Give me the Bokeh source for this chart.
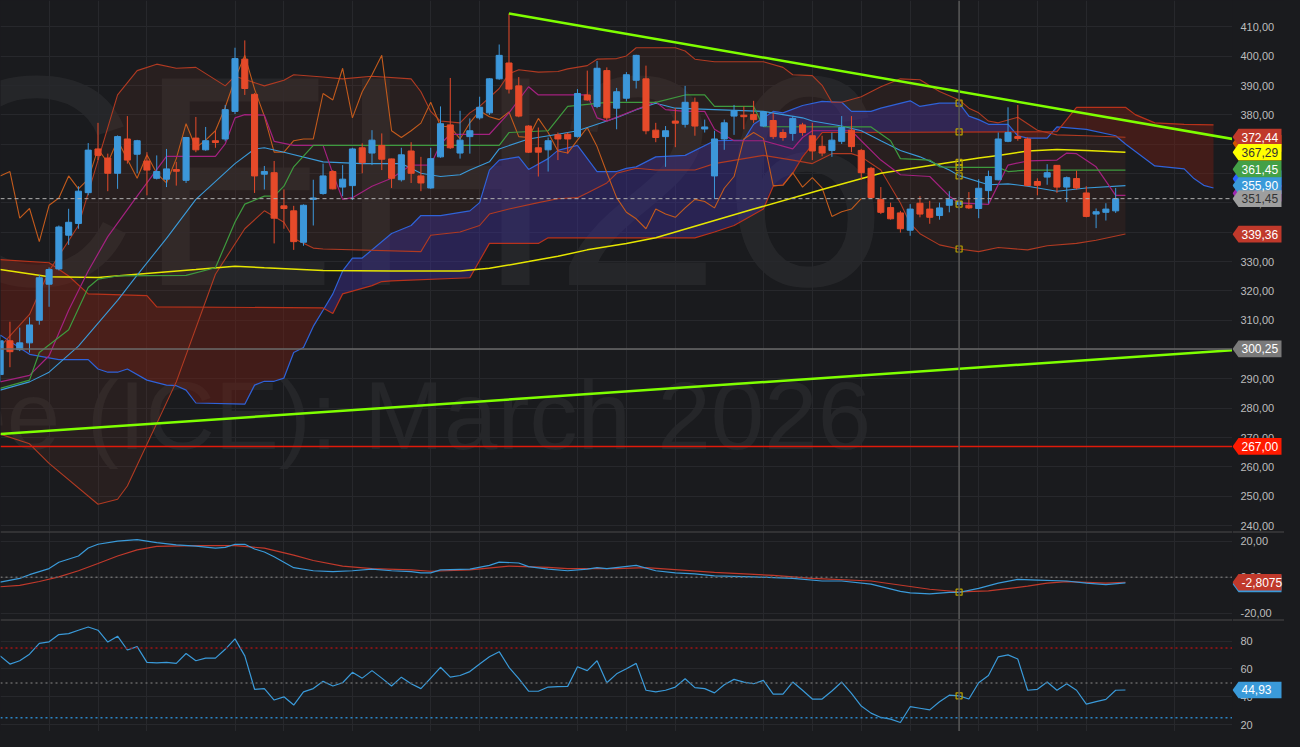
import numpy as np
from bokeh.plotting import figure
from bokeh.layouts import column, row
from bokeh.models import Range1d, FixedTicker, Label, Span, ColumnDataSource
from bokeh.core.properties import value
from bokeh.embed import file_html
from bokeh.resources import INLINE

# ---------------- data ----------------
opens = [291.5, 303, 300, 302.3, 310, 322.3, 327.5, 339, 343, 353.5,
         368.4, 365.3, 360.1, 371.8, 366.6, 364.3, 358.4, 358.1, 361.4, 357.7,
         372.1, 368.1, 371.2, 371.8, 381.2, 399, 387, 359.8, 360.3, 349,
         347.3, 336.6, 351.2, 353.2, 360.7, 355.4, 355.9, 368.8, 367, 369.6,
         365, 357.9, 367.7, 359.2, 355.1, 365.7, 376.6, 367, 372.6, 379,
         380.7, 392.3, 397.7, 389.9, 376.2, 368.8, 368.1, 373.2, 373.4, 372.6,
         386.8, 382.9, 395.1, 382.3, 385.7, 391.8, 392.3, 374.8, 372.6, 377.9,
         376.8, 384.3, 375.2, 359.2, 371.8, 379.6, 379.9, 380.1, 376.2, 378.1,
         374, 373.7, 376.6, 372.9, 369.3, 367.9, 371, 374.8, 367.9, 361.8,
         351.2, 348.4, 346.6, 340.7, 349.9, 347.9, 345.7, 349.2, 349.5, 349.2,
         348.1, 354.2, 357.9, 371, 372.6, 371.8, 357.3, 358.8, 362.8, 355.4,
         358.3, 353.4, 346.2, 346.8, 347.3]
highs = [305, 309.5, 307.5, 311, 325.5, 328, 342.3, 348, 355.7, 370.4,
         377.3, 366.8, 373, 379.6, 371.5, 367.3, 366.2, 368.4, 364, 372.5,
         379.3, 375.9, 374.6, 383.4, 402.9, 405.4, 387.5, 362.6, 364.3, 354.6,
         349, 349.5, 357.9, 363.4, 361.2, 362.9, 368.8, 370.3, 374.8, 373.7,
         365.1, 368.8, 370.7, 365.7, 368.8, 382.9, 392.6, 381.4, 378.8, 386.2,
         392.5, 404, 414.6, 392.9, 376.5, 375.7, 372.3, 374, 374, 388.8,
         395.1, 398.4, 396.2, 389.2, 394.6, 400.5, 396.8, 377.3, 376.2, 382.3,
         389.9, 385.9, 378.4, 374.6, 378.4, 383.4, 382.9, 384.8, 381.2, 380.7,
         375.1, 379.6, 377.3, 377.3, 372.9, 374, 379.6, 379.6, 368.4, 362.3,
         355.4, 350.1, 347.3, 349.6, 352.3, 350.7, 350.1, 354, 352, 353.7,
         358.1, 361, 374, 382.6, 383.4, 372.3, 358.4, 363.2, 362.9, 359,
         361, 355.7, 348.1, 349.9, 355.1]
lows = [289, 294, 299.5, 299, 308.5, 314.6, 327, 335.7, 341.2, 352.6,
        364.6, 354, 354.8, 363.4, 360.1, 352.6, 358, 355.4, 355.9, 356.8,
        367.3, 367.8, 368.8, 371, 380.3, 386.8, 353.4, 354.6, 336.2, 341.2,
        334, 335.4, 342.3, 352.8, 354.6, 352.3, 351, 360.1, 362.9, 361.2,
        355.1, 357.3, 356.8, 354, 354.8, 365.4, 368.4, 365.1, 366.8, 378.4,
        380, 392, 387.3, 379.2, 367, 359, 360.7, 364.6, 366.8, 372.3,
        384.8, 382.3, 378.1, 375.1, 384.6, 389, 373.4, 370.7, 362.3, 369,
        375.7, 372.9, 374, 351.4, 368.1, 373.2, 375.1, 377.3, 376, 371.8,
        371.2, 371.2, 372.9, 364.6, 365.9, 365.7, 370.1, 367.3, 357.9, 351.4,
        346.2, 344.3, 339.9, 338.8, 345.1, 342.9, 344.3, 346.8, 348, 347.9,
        344.8, 349.8, 357.7, 370.7, 371.2, 355.7, 352.6, 356.2, 353.4, 350.3,
        354.6, 345.1, 341.4, 344, 346.6]
closes = [303, 299.3, 302.3, 308.4, 324.5, 327.3, 341.8, 343.4, 354, 368,
          366.2, 360.1, 372.6, 364.6, 371.2, 361.2, 360.7, 361.6, 360.8, 372.3,
          368.1, 371.2, 370.6, 381.8, 399.2, 389, 359.2, 360.7, 344.8, 348.1,
          336.8, 349.2, 351.7, 359.2, 354.8, 358.1, 368.4, 363.7, 371.4, 364.9,
          358.4, 366.4, 360.1, 356.8, 365.1, 377, 368.8, 371.4, 374.6, 382.6,
          392.3, 400.3, 388.8, 379.6, 367.3, 367.3, 371.2, 371.8, 371.8, 387.3,
          385.1, 395.9, 379, 387.9, 393.7, 400.3, 374.6, 372.3, 374.6, 377.2,
          384.3, 376.2, 375.9, 371.8, 377.3, 381.4, 379.4, 378.4, 381, 372.6,
          372.3, 378.8, 374, 367.7, 367, 371.4, 375.7, 369.2, 360.3, 351.8,
          346.8, 344.6, 341.2, 347.9, 346.2, 345.1, 348.3, 351.2, 350.5, 348.3,
          355, 359, 371.8, 374, 372, 355.9, 356, 360.3, 355.4, 358.6,
          355.1, 345.4, 347, 347.9, 351.45]

# long moving average (yellow)
ma_x = [0, 5, 10, 14, 20, 24, 27, 33, 40, 47, 50, 54, 57, 60, 64, 67, 77, 84, 90, 97, 100, 102, 105, 108, 111, 115]
ma_y = [327.3, 324.8, 324.6, 325.7, 327.3, 328.4, 327.9, 327.0, 326.8, 326.8, 327.7, 330.0, 331.8, 334.0, 336.2,
        338.1, 347.9, 354.6, 360.1, 363.8, 365.3, 366.2, 367.7, 368.2, 367.9, 367.3]
# Bollinger middle (light blue)
mid_x = [0, 3, 5, 8, 12, 14, 17, 20, 24, 26, 27, 29, 33, 37, 41, 43, 45, 47, 48, 50, 51, 54, 57, 59, 61, 63, 65, 67,
         69, 73, 78, 80, 82, 83, 86, 88, 90, 92, 94, 97, 98, 101, 103, 105, 108, 111, 115]
mid_y = [286.2, 289.0, 292.3, 301.2, 316.8, 325.4, 337.9, 351.2, 363.4, 368.4, 368.8, 367.3, 364.0, 363.4, 363.4,
         360.1, 359.0, 359.6, 361.2, 364.0, 368.4, 371.8, 373.4, 374.6, 376.8, 379.0, 381.8, 384.0, 382.3, 381.8,
         381.2, 380.1, 379.0, 377.9, 376.2, 374.6, 371.2, 367.9, 365.7, 361.2, 359.3, 356.2, 356.5, 355.7, 354.0,
         355.1, 355.9]
# Tenkan (magenta)
tk_x = [0, 3, 5, 7, 9, 11, 14, 15, 17, 22, 23, 24, 25, 27, 28, 30, 33, 34, 35, 36, 38, 40, 42, 44, 45, 46, 50, 52,
        54, 55, 60, 61, 62, 67, 68, 70, 72, 73, 75, 78, 81, 82, 83, 87, 88, 90, 92, 95, 97, 98, 101, 103, 105, 108,
        109, 110, 112, 114, 115]
tk_y = [289.0, 291.2, 297.9, 313.4, 326.8, 338.5, 352.3, 356.8, 365.9, 365.9, 370.1, 379.0, 380.1, 379.9, 371.0,
        369.6, 369.6, 360.0, 351.2, 351.8, 355.7, 358.4, 362.9, 362.9, 370.1, 373.4, 373.4, 380.7, 389.6, 386.8,
        386.8, 379.0, 377.9, 384.5, 381.8, 381.2, 381.2, 375.1, 371.2, 371.2, 368.4, 372.3, 374.6, 374.6, 371.2,
        364.6, 359.6, 359.0, 352.3, 350.0, 349.5, 362.9, 364.3, 364.6, 367.0, 366.8, 362.3, 352.6, 352.6]
# Kijun (green)
kj_x = [0, 3, 4, 7, 9, 10, 12, 19, 22, 24, 25, 27, 28, 29, 30, 32, 51, 52, 56, 58, 62, 67, 70, 72, 73, 77, 78, 89,
        91, 92, 95, 96, 98, 102, 103, 105, 115]
kj_y = [286.8, 289.6, 299.0, 306.8, 321.2, 324.0, 325.1, 325.3, 327.9, 343.5, 349.6, 352.3, 352.3, 355.7, 362.3,
        369.6, 369.6, 374.0, 374.6, 382.9, 384.3, 384.3, 386.8, 386.8, 382.9, 382.9, 376.0, 375.9, 371.2, 365.1,
        364.6, 362.3, 362.1, 362.1, 360.7, 361.2, 361.2]
# Bollinger upper / lower
up_x = [0, 3, 5, 8, 9, 12, 14, 16, 18, 20, 23, 24, 27, 29, 30, 33, 35, 38, 42, 43, 44, 45, 47, 48, 49, 51, 52, 53,
        55, 57, 58, 60, 61, 63, 64, 65, 69, 70, 71, 73, 78, 80, 81, 83, 84, 85, 86, 88, 90, 92, 94, 96, 98, 99, 100,
        101, 102, 104, 106, 108, 111, 115]
up_y = [301.0, 312.0, 326.8, 342.3, 353.4, 386.8, 395.1, 397.3, 395.9, 396.2, 389.9, 393.2, 389.9, 391.8, 393.7,
        392.9, 392.3, 393.2, 392.3, 387.9, 381.2, 377.9, 377.3, 380.7, 382.9, 389.0, 394.0, 395.4, 394.6, 394.8,
        395.7, 396.8, 399.0, 399.2, 400.1, 402.9, 402.9, 401.8, 399.0, 398.1, 398.1, 396.2, 393.7, 393.4, 390.1,
        384.3, 384.3, 386.2, 389.6, 392.3, 392.0, 388.0, 385.1, 382.3, 380.7, 377.9, 377.3, 379.2, 374.8, 373.2,
        372.9, 372.4]
lo_x = [0, 3, 5, 10, 12, 13, 18, 22, 25, 27, 29, 30, 32, 33, 43, 44, 47, 49, 50, 52, 55, 57, 59, 60, 62, 63, 65, 67,
        71, 73, 78, 81, 83, 85, 87, 88, 90, 92, 93, 94, 96, 98, 100, 102, 105, 107, 110, 112, 115]
lo_y = [271.2, 267.9, 261.2, 247.3, 249.0, 253.5, 289.0, 325.7, 341.2, 347.3, 343.4, 337.9, 334.6, 334.3, 333.4,
        339.0, 340.1, 342.3, 346.2, 347.9, 350.1, 351.4, 351.8, 353.4, 356.8, 360.1, 361.8, 361.2, 361.2, 363.4,
        366.2, 364.6, 363.4, 366.8, 366.8, 365.7, 361.2, 350.0, 343.0, 339.5, 335.7, 334.3, 333.4, 334.8, 334.0,
        335.4, 336.2, 337.3, 339.4]
# Senkou span A (blue) / B (red)
sa_x = [0, 3, 6, 9, 10, 11, 12, 13, 15, 17, 18, 19, 20, 25, 26, 27, 28, 29, 30, 31, 32, 33, 34, 35, 36, 37, 40, 42,
        43, 45, 48, 49, 50, 51, 53, 54, 56, 57, 59, 61, 63, 64, 65, 67, 70, 73, 76, 77, 79, 80, 82, 84, 86, 87, 89,
        90, 93, 94, 96, 98, 99, 100, 101, 103, 104, 105, 107, 108, 111, 114, 115, 118, 121, 122, 123, 124]
sa_y = [305.0, 298.4, 296.6, 296.6, 293.4, 292.3, 292.3, 293.4, 289.6, 287.9, 287.7, 286.2, 281.8, 281.4, 287.9,
        289.2, 289.2, 290.3, 299.0, 300.7, 307.9, 313.4, 319.0, 326.8, 331.2, 331.2, 339.6, 342.3, 345.7, 345.7,
        347.3, 350.1, 361.2, 364.6, 365.7, 361.4, 365.1, 367.9, 369.6, 360.7, 360.7, 361.8, 362.3, 365.7, 366.2,
        371.2, 371.4, 376.8, 381.2, 380.7, 383.2, 384.6, 384.3, 381.2, 381.2, 382.3, 384.8, 382.9, 384.0, 384.0,
        379.6, 378.4, 376.8, 376.8, 372.9, 372.1, 372.1, 375.9, 375.1, 372.9, 370.1, 362.6, 361.6, 358.3, 356.0,
        355.1]
sb_x = [0, 5, 7, 9, 15, 16, 33, 34, 35, 38, 39, 40, 48, 50, 55, 56, 71, 73, 75, 78, 79, 80, 81, 82, 84, 108, 110,
        115, 116, 118, 121, 124]
sb_y = [330.7, 329.6, 325.1, 319.0, 318.4, 314.6, 314.2, 312.3, 319.0, 321.8, 323.2, 323.4, 324.5, 336.2, 336.2,
        338.1, 338.1, 340.1, 342.3, 347.9, 355.7, 356.2, 360.1, 365.7, 374.0, 374.3, 382.6, 382.6, 380.1, 377.3,
        376.8, 376.6]
# trend lines (bar index, price)
trend_down_x = [52, 125.94]
trend_down_y = [414.6, 371.8]
trend_up_x = [0.035, 125.94]
trend_up_y = [271.2, 299.8]
# horizontal levels
level_red = 267.00
level_gray = 300.25
last_price = 351.45
cross_idx = 98
cross_main_y = [384.0, 374.2, 363.8, 362.0, 359.2, 349.6, 334.3]
# MACD
macd_x = [0, 2, 3, 5, 6, 8, 9, 10, 12, 14, 16, 18, 20, 22, 23, 24, 25, 26, 27, 28, 30, 32, 34, 36, 38, 40, 42, 43,
          44, 45, 48, 50, 51, 53, 54, 56, 58, 60, 61, 62, 65, 67, 69, 71, 73, 77, 81, 84, 86, 89, 92, 93, 95, 97,
          98, 100, 102, 104, 106, 109, 111, 113, 115]
macd_y = [-2.75, -0.67, 1.4, 4.8, 8.3, 11.8, 16.2, 18.3, 20.1, 20.9, 19.2, 18.0, 17.3, 16.2, 16.6, 18.3, 18.3,
          15.7, 14.0, 11.4, 5.3, 3.6, 3.1, 3.6, 4.5, 3.6, 3.1, 2.4, 2.4, 4.1, 4.5, 6.6, 8.4, 7.9, 5.9, 4.5, 3.6,
          4.5, 5.3, 4.8, 6.6, 3.6, 2.4, 1.9, 0.7, 0.2, -0.7, -2.1, -2.1, -3.8, -7.9, -8.7, -9.3, -8.4, -8.4, -6.2,
          -3.3, -1.2, -1.6, -2.1, -3.3, -4.1, -3.2]
sig_x = [0, 2, 4, 6, 8, 10, 12, 14, 16, 20, 24, 27, 30, 32, 35, 38, 42, 44, 48, 52, 56, 58, 63, 66, 73, 79, 83, 89,
         95, 98, 101, 105, 107, 109, 113, 115]
sig_y = [-5.3, -4.5, -2.4, 0.2, 3.6, 7.6, 11.8, 15.2, 17.1, 17.5, 17.5, 16.2, 12.3, 9.3, 6.2, 4.8, 4.1, 3.3, 4.1,
         6.2, 5.5, 4.8, 4.8, 5.3, 2.7, 1.0, -0.7, -2.1, -6.7, -8.1, -7.6, -5.0, -3.3, -2.4, -3.3, -2.8]
macd_last = -2.8075
# RSI (one value per bar, 0..115)
rsi = [69.4, 63.5, 65.9, 70.6, 78.4, 79.5, 84.7, 85.4, 87.8, 90.1,
       87.8, 79.3, 83.5, 73.6, 76.0, 64.7, 64.3, 64.7, 64.0, 71.1,
       65.9, 67.8, 67.8, 74.1, 81.6, 69.4, 45.4, 45.9, 37.7, 40.0,
       34.1, 43.5, 45.9, 51.1, 47.8, 50.1, 57.6, 53.4, 58.8, 53.4,
       47.8, 54.1, 49.4, 45.9, 53.4, 61.2, 54.1, 55.3, 58.1, 63.5,
       68.7, 72.4, 61.2, 53.0, 44.0, 44.0, 47.0, 47.3, 47.5, 61.6,
       58.8, 65.9, 50.1, 56.5, 60.2, 64.0, 44.7, 43.5, 44.7, 47.0,
       53.0, 46.6, 45.9, 42.8, 48.7, 52.5, 50.6, 49.4, 51.8, 41.9,
       41.9, 50.6, 44.7, 38.4, 38.4, 44.2, 50.6, 42.4, 33.4, 28.3,
       25.2, 24.0, 21.6, 32.9, 31.8, 30.6, 36.5, 41.2, 40.7, 38.4,
       50.1, 55.3, 68.7, 70.1, 67.1, 44.7, 45.4, 50.6, 44.7, 49.4,
       44.7, 34.8, 36.5, 38.2, 44.7, 44.9]
rsi_last = 44.93
rsi_levels = [75, 50, 25]
# tags on the price scale
tag_vals = [372.44, 367.29, 361.45, 355.90, 351.45, 339.36, 300.25, 267.00]
tag_bg = ["#c0392b", "#ffff00", "#43a047", "#3a9ad9", "#9e9e9e", "#c0392b", "#7a7a7a", "#ff1a00"]
tag_fg = ["#ffffff", "#333333", "#ffffff", "#ffffff", "#333333", "#ffffff", "#ffffff", "#ffffff"]
# tags mostly hidden behind the others (only their edges show)
hidden_tag_vals = [370.3, 358.2, 353.3]
hidden_tag_bg = ["#d35400", "#2962ff", "#9c27b0"]
grid_x = [5, 10, 15, 24, 29, 36, 44, 49, 59, 64, 69, 78, 83, 88, 93, 100, 106, 111, 120]
price_ticks = list(range(240, 411, 10))
macd_ticks = [-20, 0, 20]
rsi_ticks = [20, 40, 60, 80]
title_sym = "KCEH26"
title_name = "Coffee (ICE): March 2026"

# ---------------- styling ----------------
BG = "#1a1b1e"
GRID = "#27282c"
UPC = "#3c97da"
DNC = "#e64a2a"
FONT = "Liberation Sans"
FRAME_W = 1232
SIDE_W = 52
X0, X1 = 0.035, 125.94

xr = Range1d(X0, X1)


def fmt_comma(v, nd):
    return f"{v:.{nd}f}".replace(".", ",")


def make_fig(h, yr):
    p = figure(frame_width=FRAME_W, frame_height=h, x_range=xr, y_range=yr,
               output_backend="svg", toolbar_location=None, y_axis_location=None,
               x_axis_location=None, min_border_left=0, min_border_right=0,
               min_border_top=0, min_border_bottom=0, background_fill_color=BG,
               border_fill_color=BG, outline_line_color=None)
    p.xgrid.ticker = FixedTicker(ticks=grid_x)
    p.xgrid.grid_line_color = GRID
    p.ygrid.grid_line_color = GRID
    return p


def make_side(h, yr, ticks, labels, tags, hidden=(), top_sep=False):
    """price scale column: tick labels and value tags, drawn through the shared y scale"""
    s = figure(frame_width=SIDE_W, frame_height=h, x_range=Range1d(0, SIDE_W), y_range=yr,
               output_backend="svg", toolbar_location=None, y_axis_location=None,
               x_axis_location=None, min_border_left=0, min_border_right=0,
               min_border_top=0, min_border_bottom=0, background_fill_color=BG,
               border_fill_color=BG, outline_line_color=None)
    s.xgrid.visible = False
    s.ygrid.visible = False
    s.text(x=[8] * len(ticks), y=ticks, text=labels, text_font=value(FONT),
           text_font_size=value("11px"), text_color="#bdbdbd", text_baseline="middle",
           text_align="left")
    units_per_px = (yr.end - yr.start) / h
    hh = 8.3 * units_per_px

    def shapes(vals):
        return ([[0, 6, 49, 49, 6] for _ in vals],
                [[v, v + hh, v + hh, v - hh, v - hh] for v in vals])

    if hidden:
        hx, hy = shapes([t[0] for t in hidden])
        s.patches(xs=hx, ys=hy, fill_color=[t[1] for t in hidden], line_color=None)
    xs, ys = shapes([t[0] for t in tags])
    s.patches(xs=xs, ys=ys, fill_color=[t[2] for t in tags], line_color=None)
    s.text(x=[9] * len(tags), y=[t[0] for t in tags], text=[t[1] for t in tags],
           text_color=[t[3] for t in tags], text_font=value(FONT), text_font_size=value("12px"),
           text_baseline="middle", text_align="left")
    if top_sep:
        s.add_layout(Span(location=yr.end, dimension="width", line_color="#4a4a4a", line_width=2))
    return s


def interp_pair(xa, ya, xb, yb):
    xs = np.union1d(np.asarray(xa, float), np.asarray(xb, float))
    lo = max(min(xa), min(xb)); hi = min(max(xa), max(xb))
    xs = xs[(xs >= lo) & (xs <= hi)]
    a = np.interp(xs, xa, ya); b = np.interp(xs, xb, yb)
    d = a - b
    ext = []
    for i in range(len(xs) - 1):
        if d[i] * d[i + 1] < 0:
            ext.append(xs[i] + (xs[i + 1] - xs[i]) * d[i] / (d[i] - d[i + 1]))
    if ext:
        xs = np.sort(np.concatenate([xs, ext]))
        a = np.interp(xs, xa, ya); b = np.interp(xs, xb, yb)
    return xs, a, b


# ---------------- main panel ----------------
H1, H2, H3 = 531, 88, 112
yr1 = Range1d(238, 419)
p1 = make_fig(H1, yr1)
p1.ygrid.ticker = FixedTicker(ticks=price_ticks)

p1.add_layout(Label(x=90.7, y=357.5, text=title_sym, text_align="right", text_baseline="middle",
                    text_font=FONT, text_font_size="300px", text_color="#ffffff", text_alpha=0.05,
                    level="image"))
p1.add_layout(Label(x=89.0, y=277.5, text=title_name, text_align="right", text_baseline="middle",
                    text_font=FONT, text_font_size="96px", text_color="#ffffff", text_alpha=0.05,
                    level="image"))

# Bollinger fill
bx, bu, bl = interp_pair(up_x, up_y, lo_x, lo_y)
p1.varea(x=bx, y1=bl, y2=bu, fill_color="#8a3a2a", fill_alpha=0.13)
# cloud fill
cx, ca, cb = interp_pair(sa_x, sa_y, sb_x, sb_y)
p1.varea(x=cx, y1=cb, y2=np.maximum(ca, cb), fill_color="#3d2f9a", fill_alpha=0.42)
p1.varea(x=cx, y1=ca, y2=np.maximum(ca, cb), fill_color="#7a1e12", fill_alpha=0.42)

p1.add_layout(Span(location=level_red, dimension="width", line_color="#e01a0a", line_width=1.5))
p1.add_layout(Span(location=level_gray, dimension="width", line_color="#6a6a6a", line_width=1.5))

p1.line(sa_x, sa_y, line_color="#2f62d8", line_width=1.2)
p1.line(sb_x, sb_y, line_color="#b8321a", line_width=1.2)
p1.line(up_x, up_y, line_color="#b03a22", line_width=1.1)
p1.line(lo_x, lo_y, line_color="#b03a22", line_width=1.1)
chik_x = list(range(0, len(closes) - 26))
p1.line(chik_x, closes[26:], line_color="#c25a1c", line_width=1.1)
p1.line(ma_x, ma_y, line_color="#e6e600", line_width=1.5)
p1.line(mid_x, mid_y, line_color="#3a9ad9", line_width=1.1)
p1.line(tk_x, tk_y, line_color="#a3217f", line_width=1.2)
p1.line(kj_x, kj_y, line_color="#3e9a3e", line_width=1.2)

idx = list(range(len(closes)))
up = [i for i in idx if closes[i] >= opens[i]]
dn = [i for i in idx if closes[i] < opens[i]]
for sel, col in ((up, UPC), (dn, DNC)):
    src = ColumnDataSource(dict(
        x=sel, h=[highs[i] for i in sel], l=[lows[i] for i in sel],
        t=[max(opens[i], closes[i]) for i in sel], b=[min(opens[i], closes[i]) for i in sel]))
    p1.segment(x0="x", y0="l", x1="x", y1="h", source=src, line_color=col, line_width=1)
    p1.vbar(x="x", top="t", bottom="b", width=0.62, source=src, fill_color=col, line_color=col)

p1.add_layout(Span(location=last_price, dimension="width", line_color="#b0b0b0", line_width=1,
                   line_dash="4 3"))
p1.line(trend_down_x, trend_down_y, line_color="#7fff00", line_width=2.5)
p1.line(trend_up_x, trend_up_y, line_color="#7fff00", line_width=2.5)

p1.add_layout(Span(location=cross_idx, dimension="height", line_color="#5a5a5a", line_width=1.5))
p1.scatter([cross_idx] * len(cross_main_y), cross_main_y, marker="square", size=6,
           fill_color=None, line_color="#b9a200", line_width=1.2)

s1 = make_side(H1, yr1, price_ticks, [fmt_comma(t, 2) for t in price_ticks],
               [(v, fmt_comma(v, 2), bg, fg) for v, bg, fg in zip(tag_vals, tag_bg, tag_fg)],
               hidden=list(zip(hidden_tag_vals, hidden_tag_bg)))

# ---------------- MACD panel ----------------
yr2 = Range1d(-23.5, 25.4)
p2 = make_fig(H2, yr2)
p2.ygrid.ticker = FixedTicker(ticks=macd_ticks)
p2.add_layout(Span(location=0, dimension="width", line_color="#6a6a6a", line_width=1.5, line_dash="2 3"))
p2.line(sig_x, sig_y, line_color="#c0392b", line_width=1.2)
p2.line(macd_x, macd_y, line_color="#3a9ad9", line_width=1.2)
p2.add_layout(Span(location=cross_idx, dimension="height", line_color="#5a5a5a", line_width=1.5))
p2.scatter([cross_idx], [-8.3], marker="square", size=6, fill_color=None, line_color="#b9a200", line_width=1.2)
p2.add_layout(Span(location=yr2.end, dimension="width", line_color="#4a4a4a", line_width=2))
s2 = make_side(H2, yr2, macd_ticks, [fmt_comma(t, 2) for t in macd_ticks],
               [(macd_last, fmt_comma(macd_last, 4), "#c0392b", "#ffffff")],
               hidden=[(macd_last - 0.9, "#3a9ad9")], top_sep=True)

# ---------------- RSI panel ----------------
yr3 = Range1d(15.1, 95.5)
p3 = make_fig(H3, yr3)
p3.ygrid.ticker = FixedTicker(ticks=rsi_ticks)
for lv, col in zip(rsi_levels, ["#a01414", "#666666", "#2a86c8"]):
    p3.add_layout(Span(location=lv, dimension="width", line_color=col, line_width=1.5, line_dash="2 3"))
p3.line(list(range(len(rsi))), rsi, line_color="#3a9ad9", line_width=1.2)
p3.add_layout(Span(location=cross_idx, dimension="height", line_color="#5a5a5a", line_width=1.5))
p3.scatter([cross_idx], [rsi[cross_idx]], marker="square", size=6, fill_color=None, line_color="#b9a200",
           line_width=1.2)
p3.add_layout(Span(location=yr3.end, dimension="width", line_color="#4a4a4a", line_width=2))
s3 = make_side(H3, yr3, rsi_ticks, [str(t) for t in rsi_ticks],
               [(rsi_last, fmt_comma(rsi_last, 2), "#3a9ad9", "#ffffff")], top_sep=True)

layout = column(row(p1, s1, spacing=0), row(p2, s2, spacing=0), row(p3, s3, spacing=0), spacing=0)
html = file_html(layout, INLINE, title=title_name)
html = html.replace("</head>", "<style>body{background:#1a1b1e;}</style></head>", 1)
open("out.html", "w").write(html)
